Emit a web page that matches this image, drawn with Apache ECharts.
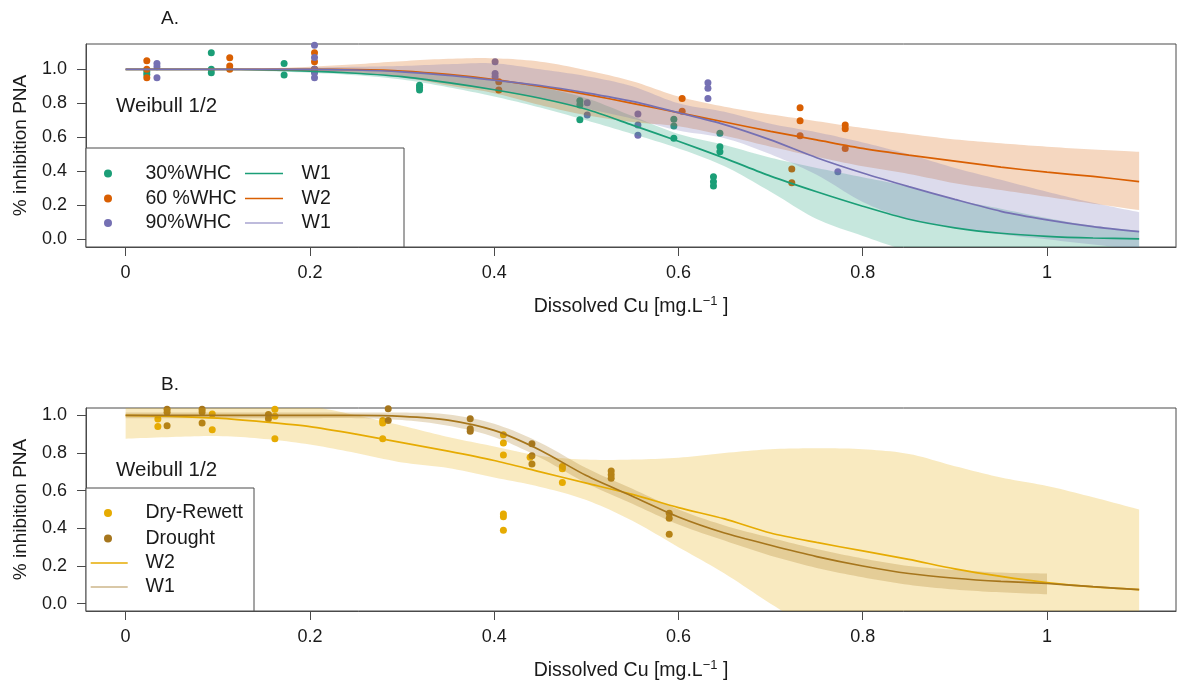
<!DOCTYPE html>
<html><head><meta charset="utf-8">
<script src="https://cdn.jsdelivr.net/npm/echarts@6/dist/echarts.min.js"></script>
<style>html,body{margin:0;padding:0;background:#fff}#c{width:1177px;height:684px}</style>
</head><body><div id="c"></div><script>
// ---------- tick labels ----------
const xTicks = [0, 0.2, 0.4, 0.6, 0.8, 1];
const xTickLabels = ['0', '0.2', '0.4', '0.6', '0.8', '1'];
const yTicks = [0, 0.2, 0.4, 0.6, 0.8, 1.0];
const yTickLabels = ['0.0', '0.2', '0.4', '0.6', '0.8', '1.0'];

// ---------- legend text ----------
const namesA = ['30%WHC', '60 %WHC', '90%WHC'];
const modelsA = ['W1', 'W2', 'W1'];
const namesB = ['Dry-Rewett', 'Drought'];
const modelsB = ['W2', 'W1'];

// ---------- fitted curves (x grid) ----------
const xCurve = [0, 0.05, 0.1, 0.15, 0.2, 0.25, 0.3, 0.35, 0.4, 0.45, 0.5, 0.55, 0.6, 0.65, 0.7, 0.75, 0.8, 0.85, 0.9, 0.95, 1.0, 1.05, 1.1];

// Panel A
const wet30Fit = [1.0, 1.0, 1.0, 0.997, 0.99, 0.977, 0.957, 0.922, 0.88, 0.83, 0.765, 0.672, 0.577, 0.478, 0.372, 0.28, 0.195, 0.118, 0.068, 0.036, 0.018, 0.008, 0.003];
const wet30Lo  = [1.0, 1.0, 0.998, 0.99, 0.98, 0.965, 0.94, 0.895, 0.84, 0.775, 0.7, 0.62, 0.535, 0.43, 0.28, 0.12, 0.02, -0.07, -0.13, -0.17, -0.19, -0.2, -0.2];
const wet30Hi  = [1.0, 1.0, 1.002, 1.004, 1.005, 1.0, 0.99, 0.97, 0.94, 0.895, 0.83, 0.725, 0.62, 0.555, 0.48, 0.42, 0.365, 0.31, 0.235, 0.18, 0.125, 0.08, 0.05];

const wet60Fit = [1.0, 1.0, 1.0, 1.0, 1.0, 0.998, 0.99, 0.97, 0.94, 0.9, 0.853, 0.8, 0.745, 0.69, 0.635, 0.585, 0.535, 0.495, 0.46, 0.425, 0.395, 0.37, 0.34];
const wet60Lo  = [1.0, 1.0, 0.998, 0.995, 0.99, 0.98, 0.955, 0.905, 0.86, 0.79, 0.73, 0.69, 0.665, 0.61, 0.545, 0.485, 0.43, 0.385, 0.33, 0.29, 0.25, 0.21, 0.172];
const wet60Hi  = [1.0, 1.0, 1.002, 1.006, 1.015, 1.03, 1.048, 1.062, 1.065, 1.045, 0.995, 0.93, 0.84, 0.78, 0.735, 0.695, 0.655, 0.62, 0.588, 0.565, 0.545, 0.528, 0.515];

const wet90Fit = [1.0, 1.0, 1.0, 1.0, 1.0, 0.996, 0.985, 0.965, 0.937, 0.905, 0.862, 0.812, 0.745, 0.675, 0.585, 0.48, 0.39, 0.31, 0.235, 0.165, 0.115, 0.075, 0.045];
const wet90Lo  = [1.0, 1.0, 0.998, 0.995, 0.99, 0.975, 0.95, 0.915, 0.878, 0.83, 0.77, 0.71, 0.64, 0.595, 0.5, 0.38, 0.22, 0.12, 0.07, 0.03, 0.0, -0.03, -0.06];
const wet90Hi  = [1.0, 1.0, 1.002, 1.005, 1.01, 1.015, 1.02, 1.03, 1.035, 1.0, 0.96, 0.9, 0.8, 0.75, 0.68, 0.63, 0.57, 0.5, 0.42, 0.35, 0.28, 0.215, 0.16];

// Panel B
const dryFit = [1.0, 0.995, 0.985, 0.965, 0.94, 0.9, 0.855, 0.81, 0.76, 0.7, 0.64, 0.58, 0.51, 0.45, 0.375, 0.325, 0.28, 0.235, 0.185, 0.145, 0.112, 0.089, 0.075];
const dryLo  = [0.876, 0.885, 0.89, 0.875, 0.845, 0.8, 0.75, 0.72, 0.67, 0.62, 0.55, 0.44, 0.3, 0.16, 0.0, -0.15, -0.28, -0.38, -0.45, -0.5, -0.5, -0.5, -0.5];
const dryHi  = [1.12, 1.11, 1.1, 1.08, 1.05, 1.0, 0.945, 0.885, 0.835, 0.785, 0.765, 0.765, 0.775, 0.8, 0.82, 0.825, 0.82, 0.795, 0.73, 0.67, 0.625, 0.565, 0.5];

const droughtFit = [1.0, 1.0, 1.0, 1.0, 1.0, 1.0, 0.995, 0.975, 0.92, 0.815, 0.68, 0.57, 0.46, 0.375, 0.31, 0.25, 0.2, 0.16, 0.135, 0.118, 0.107, 0.09, 0.075];
const xDroughtBand = [0, 0.05, 0.1, 0.15, 0.2, 0.25, 0.3, 0.35, 0.4, 0.45, 0.5, 0.55, 0.6, 0.65, 0.7, 0.75, 0.8, 0.85, 0.9, 0.95, 1.0];
const droughtLo = [0.985, 0.985, 0.985, 0.985, 0.985, 0.985, 0.975, 0.945, 0.885, 0.775, 0.64, 0.53, 0.42, 0.335, 0.255, 0.19, 0.14, 0.1, 0.075, 0.06, 0.05];
const droughtHi = [1.015, 1.015, 1.015, 1.015, 1.015, 1.015, 1.015, 1.005, 0.955, 0.855, 0.72, 0.61, 0.5, 0.415, 0.35, 0.29, 0.24, 0.2, 0.18, 0.165, 0.16];

// ---------- observations ----------
const wet30PtsX = [0.023, 0.023, 0.093, 0.093, 0.093, 0.172, 0.172, 0.205, 0.205, 0.319, 0.319, 0.319, 0.493, 0.493, 0.493, 0.595, 0.595, 0.595, 0.638, 0.638, 0.638, 0.645, 0.645, 0.645];
const wet30PtsY = [0.986, 0.97, 1.098, 1.0, 0.98, 1.035, 0.966, 1.0, 0.985, 0.907, 0.893, 0.878, 0.815, 0.79, 0.704, 0.706, 0.666, 0.594, 0.368, 0.339, 0.314, 0.624, 0.545, 0.515];

const wet60PtsX = [0.023, 0.023, 0.023, 0.113, 0.113, 0.113, 0.205, 0.205, 0.205, 0.405, 0.405, 0.604, 0.604, 0.723, 0.723, 0.732, 0.732, 0.732, 0.781, 0.781, 0.781];
const wet60PtsY = [1.05, 1.0, 0.95, 1.068, 1.02, 1.0, 1.098, 1.045, 1.0, 0.927, 0.878, 0.829, 0.753, 0.414, 0.333, 0.774, 0.698, 0.61, 0.672, 0.65, 0.535];

const wet90PtsX = [0.034, 0.034, 0.034, 0.205, 0.205, 0.205, 0.205, 0.205, 0.401, 0.401, 0.401, 0.501, 0.501, 0.556, 0.556, 0.556, 0.632, 0.632, 0.632, 0.773];
const wet90PtsY = [1.035, 1.015, 0.95, 1.142, 1.07, 1.0, 0.98, 0.95, 1.045, 0.976, 0.956, 0.804, 0.731, 0.737, 0.672, 0.612, 0.921, 0.888, 0.828, 0.398];

const dryPtsX = [0.035, 0.035, 0.094, 0.094, 0.162, 0.162, 0.162, 0.279, 0.279, 0.279, 0.41, 0.41, 0.41, 0.41, 0.41, 0.41, 0.439, 0.474, 0.474, 0.474];
const dryPtsY = [0.981, 0.941, 1.007, 0.924, 1.032, 0.995, 0.876, 0.973, 0.959, 0.876, 0.897, 0.853, 0.79, 0.476, 0.462, 0.39, 0.778, 0.728, 0.716, 0.643];

const droughtPtsX = [0.045, 0.045, 0.045, 0.083, 0.083, 0.083, 0.155, 0.155, 0.285, 0.285, 0.374, 0.374, 0.374, 0.441, 0.441, 0.441, 0.527, 0.527, 0.527, 0.59, 0.59, 0.59];
const droughtPtsY = [1.032, 1.016, 0.945, 1.032, 1.018, 0.959, 1.004, 0.982, 1.035, 0.973, 0.982, 0.929, 0.915, 0.849, 0.785, 0.741, 0.705, 0.684, 0.666, 0.48, 0.453, 0.369];

// ---------- styling ----------
const C30 = '#1B9E77', C60 = '#D95F02', C90 = '#7570B3', CDRY = '#E6AB02', CDRO = '#A6761D';
const FONT = 'Liberation Sans, Arial, sans-serif';
const TXT = '#1a1a1a';
const AX = '#4a4a4a';

function fmt(list, labels) {
  return function (v) {
    for (let i = 0; i < list.length; i++) if (Math.abs(list[i] - v) < 1e-9) return labels[i];
    return '';
  };
}

function smoothPts(p, seg) {
  const out = [];
  for (let i = 0; i < p.length - 1; i++) {
    const p0 = p[Math.max(i - 1, 0)], p1 = p[i], p2 = p[i + 1], p3 = p[Math.min(i + 2, p.length - 1)];
    for (let s = 0; s < seg; s++) {
      const t = s / seg, t2 = t * t, t3 = t2 * t;
      out.push([0, 1].map(k => 0.5 * ((2 * p1[k]) + (-p0[k] + p2[k]) * t + (2 * p0[k] - 5 * p1[k] + 4 * p2[k] - p3[k]) * t2 + (-p0[k] + 3 * p1[k] - 3 * p2[k] + p3[k]) * t3)));
    }
  }
  out.push(p[p.length - 1]);
  return out;
}

function clipPoly(pts, yMin, yMax) {
  function clipEdge(poly, inside, inter) {
    const out = [];
    for (let i = 0; i < poly.length; i++) {
      const cur = poly[i], prev = poly[(i + poly.length - 1) % poly.length];
      const ci = inside(cur), pi = inside(prev);
      if (ci) { if (!pi) out.push(inter(prev, cur)); out.push(cur); }
      else if (pi) out.push(inter(prev, cur));
    }
    return out;
  }
  const atY = y => (a, b) => { const t = (y - a[1]) / (b[1] - a[1]); return [a[0] + t * (b[0] - a[0]), y]; };
  let p = clipEdge(pts, q => q[1] >= yMin, atY(yMin));
  p = clipEdge(p, q => q[1] <= yMax, atY(yMax));
  return p;
}

function band(idx, xs, lo, hi, fill) {
  return {
    type: 'custom', xAxisIndex: idx, yAxisIndex: idx, z: 2, silent: true,
    data: xs.map((x, i) => [x, lo[i], hi[i]]),
    encode: { x: 0, y: [1, 2] },
    renderItem: function (params, api) {
      if (params.dataIndex !== 0) return null;
      const cs = params.coordSys;
      const up = [], dn = [];
      for (let i = 0; i < xs.length; i++) {
        up.push(api.coord([api.value(0, i), api.value(2, i)]));
        dn.push(api.coord([api.value(0, i), api.value(1, i)]));
      }
      const poly = smoothPts(up, 10).concat(smoothPts(dn, 10).reverse());
      const clipped = clipPoly(poly, cs.y, cs.y + cs.height);
      return { type: 'polygon', shape: { points: clipped }, style: { fill: fill, stroke: null } };
    }
  };
}

function fitLine(idx, xs, ys, color) {
  return {
    type: 'line', xAxisIndex: idx, yAxisIndex: idx, z: 3, silent: true,
    data: xs.map((x, i) => [x, ys[i]]), showSymbol: false, symbol: 'none',
    smooth: 0.25, lineStyle: { color: color, width: 1.7 }
  };
}

function pts(idx, xs, ys, color) {
  return {
    type: 'scatter', xAxisIndex: idx, yAxisIndex: idx, z: 1, silent: true,
    data: xs.map((x, i) => [x, ys[i]]), symbol: 'circle', symbolSize: 7,
    itemStyle: { color: color, opacity: 1 }
  };
}

function xAxisCfg(g) {
  return {
    type: 'value', gridIndex: g, min: -0.043, max: 1.14,
    axisLine: { show: true, onZero: false, lineStyle: { color: AX, width: 1 } },
    axisTick: { show: true, length: 9, customValues: xTicks, lineStyle: { color: AX, width: 1 } },
    axisLabel: { customValues: xTicks, formatter: fmt(xTicks, xTickLabels), margin: 17, fontSize: 18, color: TXT, fontFamily: FONT },
    splitLine: { show: false },
    name: 'Dissolved Cu [mg.L{sup|\u22121} ]', nameLocation: 'middle', nameGap: 48,
    nameTextStyle: { fontSize: 19.5, color: TXT, fontFamily: FONT,
      rich: { sup: { fontSize: 13, color: TXT, fontFamily: FONT, padding: [0, 0, 10, 0] } } }
  };
}
function yAxisCfg(g, min, max) {
  return {
    type: 'value', gridIndex: g, min: min, max: max,
    axisLine: { show: true, onZero: false, lineStyle: { color: AX, width: 1 } },
    axisTick: { show: true, length: 9, customValues: yTicks, lineStyle: { color: AX, width: 1 } },
    axisLabel: { customValues: yTicks, formatter: fmt(yTicks, yTickLabels), margin: 19, fontSize: 18, color: TXT, fontFamily: FONT },
    splitLine: { show: false },
    name: '% inhibition PNA', nameLocation: 'middle', nameGap: 56,
    nameTextStyle: { fontSize: 19, color: TXT, fontFamily: FONT }
  };
}

function legendGraphics() {
  const g = [];
  const txt = (x, y, s, size) => ({ type: 'text', x: x, y: y, z: 101,
    style: { text: s, fontSize: size, fontFamily: FONT, fill: TXT, verticalAlign: 'middle', align: 'left' } });
  const dot = (x, y, c) => ({ type: 'circle', shape: { cx: x, cy: y, r: 4 }, style: { fill: c }, z: 101 });
  const seg = (x1, x2, y, c) => ({ type: 'line', shape: { x1: x1, y1: y, x2: x2, y2: y }, style: { stroke: c, lineWidth: 1.6 }, z: 101 });
  // Panel A legend
  g.push({ type: 'rect', shape: { x: 86, y: 148, width: 318, height: 99 }, style: { fill: '#fff', stroke: AX, lineWidth: 1 }, z: 100 });
  const rowsA = [173.5, 198.5, 223], colA = [C30, C60, C90], lineA = [C30, C60, '#A9A5D1'];
  for (let i = 0; i < 3; i++) {
    g.push(dot(108, rowsA[i], colA[i]));
    g.push(txt(145.5, rowsA[i], namesA[i], 19.5));
    g.push(seg(245, 283, rowsA[i], lineA[i]));
    g.push(txt(301.5, rowsA[i], modelsA[i], 19.5));
  }
  // Panel B legend
  g.push({ type: 'rect', shape: { x: 86, y: 488, width: 168, height: 123 }, style: { fill: '#fff', stroke: AX, lineWidth: 1 }, z: 100 });
  const rowsB = [513, 538.5, 563, 587];
  g.push(dot(108, rowsB[0], CDRY)); g.push(txt(145.5, rowsB[0], namesB[0], 19.5));
  g.push(dot(108, rowsB[1], CDRO)); g.push(txt(145.5, rowsB[1], namesB[1], 19.5));
  g.push(seg(90.7, 127.7, rowsB[2], CDRY)); g.push(txt(145.5, rowsB[2], modelsB[0], 19.5));
  g.push(seg(90.7, 127.7, rowsB[3], '#CDB68A')); g.push(txt(145.5, rowsB[3], modelsB[1], 19.5));
  // titles & annotations
  g.push(txt(161, 19, 'A.', 19));
  g.push(txt(161, 385, 'B.', 19));
  g.push(txt(116, 106, 'Weibull 1/2', 20.5));
  g.push(txt(116, 470, 'Weibull 1/2', 20.5));
  return g;
}

const chart = echarts.init(document.getElementById('c'), null, { renderer: 'canvas' });
chart.setOption({
  animation: false,
  backgroundColor: '#fff',
  grid: [
    { left: 86, top: 44, width: 1090, height: 203, show: true, borderColor: AX, borderWidth: 1, containLabel: false },
    { left: 86, top: 408, width: 1090, height: 203, show: true, borderColor: AX, borderWidth: 1, containLabel: false }
  ],
  xAxis: [xAxisCfg(0), xAxisCfg(1)],
  yAxis: [yAxisCfg(0, -0.045, 1.149), yAxisCfg(1, -0.039, 1.039)],
  series: [
    pts(0, wet30PtsX, wet30PtsY, C30),
    pts(0, wet60PtsX, wet60PtsY, C60),
    pts(0, wet90PtsX, wet90PtsY, C90),
    band(0, xCurve, wet30Lo, wet30Hi, 'rgba(27,158,119,0.25)'),
    band(0, xCurve, wet60Lo, wet60Hi, 'rgba(217,95,2,0.25)'),
    band(0, xCurve, wet90Lo, wet90Hi, 'rgba(117,112,179,0.25)'),
    fitLine(0, xCurve, wet30Fit, C30),
    fitLine(0, xCurve, wet60Fit, C60),
    fitLine(0, xCurve, wet90Fit, C90),
    pts(1, dryPtsX, dryPtsY, CDRY),
    pts(1, droughtPtsX, droughtPtsY, CDRO),
    band(1, xCurve, dryLo, dryHi, 'rgba(230,171,2,0.25)'),
    band(1, xDroughtBand, droughtLo, droughtHi, 'rgba(166,118,29,0.25)'),
    fitLine(1, xCurve, dryFit, CDRY),
    fitLine(1, xCurve, droughtFit, CDRO)
  ],
  graphic: legendGraphics()
});
</script></body></html>
